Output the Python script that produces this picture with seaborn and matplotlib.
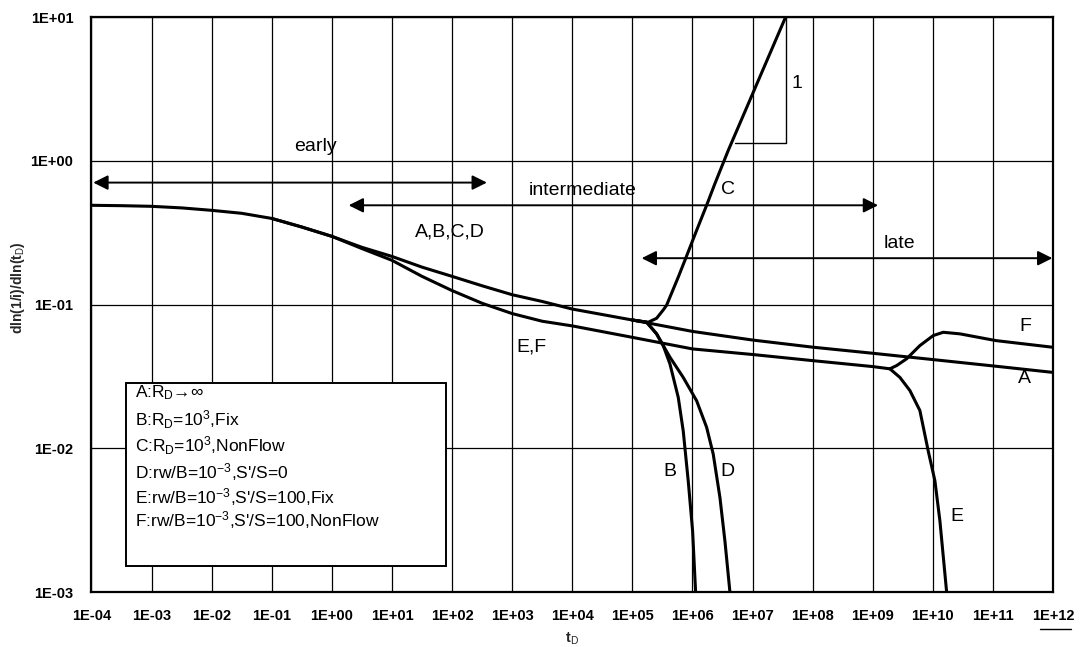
import numpy as np
import matplotlib
matplotlib.use("Agg")
import matplotlib.pyplot as plt
import matplotlib.patches as mpatches
from matplotlib.lines import Line2D
import seaborn as sns

# ---------------- data (t as log10 exponents) ----------------
A_logt = [-4, -3.5, -3, -2.5, -2, -1.5, -1, -0.5, 0, 0.5, 1, 1.5, 2, 2.5, 3, 3.5, 4, 5, 6, 7, 8, 9, 10, 11, 12]
A_y = [0.490, 0.487, 0.482, 0.470, 0.452, 0.431, 0.397, 0.346, 0.298, 0.250, 0.216, 0.182, 0.157, 0.135,
       0.117, 0.105, 0.093, 0.078, 0.065, 0.0566, 0.0505, 0.0458, 0.0414, 0.0374, 0.0337]

B_logt = [5.0, 5.238, 5.404, 5.514, 5.626, 5.764, 5.847, 5.930, 6.003, 6.053]
B_y = [0.078, 0.0753, 0.0625, 0.0518, 0.0386, 0.0226, 0.0132, 0.00594, 0.00266, 0.001]

C_logt = [5.0, 5.265, 5.404, 5.514, 5.571, 5.764, 5.875, 6.070, 6.236, 6.374, 6.596, 7.551]
C_y = [0.078, 0.0753, 0.0802, 0.0916, 0.0990, 0.155, 0.203, 0.328, 0.490, 0.693, 1.18, 10.0]

D_logt = [5.0, 5.238, 5.404, 5.514, 5.626, 5.847, 6.070, 6.236, 6.346, 6.458, 6.541, 6.624]
D_y = [0.078, 0.0753, 0.0625, 0.0518, 0.0430, 0.0311, 0.0214, 0.0140, 0.00912, 0.00454, 0.00226, 0.001]

EF_logt = [-1, -0.5, 0, 0.5, 1, 1.5, 2, 2.5, 3, 3.5, 4, 5, 6, 7, 8, 9, 9.286]
EF_y = [0.397, 0.346, 0.298, 0.245, 0.203, 0.157, 0.125, 0.102, 0.0865,
        0.0765, 0.071, 0.0591, 0.0491, 0.0449, 0.0407, 0.0370, 0.0357]

E_logt = [9.286, 9.453, 9.619, 9.785, 9.923, 10.035, 10.118, 10.23]
E_y = [0.0357, 0.0311, 0.0252, 0.0183, 0.00961, 0.00594, 0.00313, 0.001]

F_logt = [9.286, 9.398, 9.564, 9.785, 10.007, 10.173, 10.451, 11.05, 12.0]
F_y = [0.0357, 0.0376, 0.0419, 0.0518, 0.0608, 0.0641, 0.0625, 0.0561, 0.0504]

x_tick_exp = list(range(-4, 13))
x_tick_labels = ["1E-04", "1E-03", "1E-02", "1E-01", "1E+00", "1E+01", "1E+02", "1E+03",
                 "1E+04", "1E+05", "1E+06", "1E+07", "1E+08", "1E+09", "1E+10", "1E+11", "1E+12"]
y_tick_exp = [-3, -2, -1, 0, 1]
y_tick_labels = ["1E-03", "1E-02", "1E-01", "1E+00", "1E+01"]

legend_lines = [
    r"A:R$_\mathrm{D}$→∞",
    r"B:R$_\mathrm{D}$=10$^\mathrm{3}$,Fix",
    r"C:R$_\mathrm{D}$=10$^\mathrm{3}$,NonFlow",
    r"D:rw/B=10$^{-3}$,S'/S=0",
    r"E:rw/B=10$^{-3}$,S'/S=100,Fix",
    r"F:rw/B=10$^{-3}$,S'/S=100,NonFlow",
]

# curve labels: (text, log10 t, y)
curve_labels = [("A,B,C,D", 1.965, 0.319), ("E,F", 3.32, 0.0504), ("C", 6.586, 0.629),
                ("B", 5.626, 0.00687), ("D", 6.579, 0.00687), ("E", 10.396, 0.00334),
                ("F", 11.533, 0.0702), ("A", 11.533, 0.0307), ("1", 7.734, 3.46)]

# period arrows: (text, start exp, end exp, y, text exp, text y)
periods = [("early", -3.97, 2.58, 0.705, -0.27, 1.26),
           ("intermediate", 0.28, 9.09, 0.490, 4.18, 0.622),
           ("late", 5.155, 11.99, 0.210, 9.44, 0.267)]

slope_tri_logt = [6.707, 7.551, 7.551]
slope_tri_y = [1.32, 1.32, 10.0]

# ---------------- style ----------------
sns.set_theme(style="white")
plt.rcParams["font.family"] = ["Liberation Sans", "DejaVu Sans"]
plt.rcParams["mathtext.fontset"] = "custom"
plt.rcParams["mathtext.rm"] = "Liberation Sans"
plt.rcParams["mathtext.it"] = "Liberation Sans:italic"
plt.rcParams["mathtext.bf"] = "Liberation Sans:bold"

fig = plt.figure(figsize=(10.85, 6.47), dpi=100)
fig.patch.set_facecolor("white")
ax = fig.add_axes([0.0843, 0.085, 0.8862, 0.8887])
ax.set_facecolor("white")

lw = 2.2
for lt, yv in [(A_logt, A_y), (B_logt, B_y), (C_logt, C_y), (D_logt, D_y),
               (EF_logt, EF_y), (E_logt, E_y), (F_logt, F_y)]:
    sns.lineplot(x=10.0 ** np.array(lt), y=np.array(yv), ax=ax, color="black",
                 linewidth=lw, estimator=None, sort=False, zorder=4)

ax.set_xscale("log")
ax.set_yscale("log")
ax.set_xlim(1e-4, 1e12)
ax.set_ylim(1e-3, 1e1)
ax.set_xticks([10.0 ** k for k in x_tick_exp])
ax.set_xticklabels(x_tick_labels)
ax.set_yticks([10.0 ** k for k in y_tick_exp])
ax.set_yticklabels(y_tick_labels)
ax.minorticks_off()
ax.tick_params(axis="both", length=0, labelsize=10.5, colors="black")
ax.tick_params(axis="x", pad=12)
ax.tick_params(axis="y", pad=13)
for lab in ax.get_xticklabels() + ax.get_yticklabels():
    lab.set_fontweight("bold")
ax.grid(True, which="major", color="black", linewidth=0.9)
ax.set_axisbelow(True)
for sp in ax.spines.values():
    sp.set_color("black")
    sp.set_linewidth(1.6)

ax.set_xlabel(r"t$_\mathrm{D}$", fontsize=10.5, fontweight="bold", labelpad=6)
ax.set_ylabel(r"dln(1/i)/dln(t$_\mathrm{D}$)", fontsize=10, fontweight="bold")
ax.yaxis.set_label_coords(-0.0764, 0.53)
ax.yaxis.label.set_va("center")

# slope triangle
ax.plot(10.0 ** np.array(slope_tri_logt), slope_tri_y, color="black", linewidth=1.0, zorder=3)

# period arrows
for txt, s, e, yv, tx, ty in periods:
    ax.annotate("", xy=(10.0 ** e, yv), xytext=(10.0 ** s, yv),
                arrowprops=dict(arrowstyle="<|-|>", color="black", lw=1.4,
                                mutation_scale=22, shrinkA=0, shrinkB=0), zorder=5)
    ax.text(10.0 ** tx, ty, txt, fontsize=14, ha="center", va="center", color="black", zorder=6)

for txt, tx, ty in curve_labels:
    ax.text(10.0 ** tx, ty, txt, fontsize=14, ha="center", va="center", color="black", zorder=6)

# legend box
ax.add_patch(mpatches.Rectangle((0.0359, 0.0452), 0.3328, 0.3183, transform=ax.transAxes,
                                facecolor="white", edgecolor="black", linewidth=1.4, zorder=7))
leg_y = [0.3461, 0.2991, 0.2539, 0.2087, 0.1652, 0.1252]
for txt, yy in zip(legend_lines, leg_y):
    ax.text(0.0452, yy, txt, transform=ax.transAxes, fontsize=12.5, ha="left", va="center",
            color="black", zorder=8)

# small stroke under the last x tick label (as in the scan)
fig.add_artist(Line2D([1040 / 1085, 1071 / 1085], [1 - 629 / 647, 1 - 629 / 647],
                      color="black", linewidth=1.0))

fig.savefig("out.png", dpi=100, facecolor="white")
